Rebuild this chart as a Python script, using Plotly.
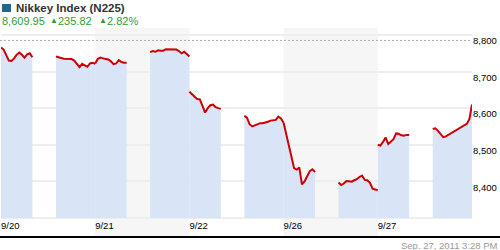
import plotly.graph_objects as go

# ---- data ----
days = ["9/20", "9/21", "9/22", "9/26", "9/27"]
# values every 10 minutes; morning 9:00-11:00 (13 pts), afternoon 12:30-15:00 (16 pts)
am_0920 = [8766, 8760, 8745, 8730, 8729, 8736, 8746, 8752, 8746, 8738, 8747, 8750, 8739]
pm_0920 = [8741, 8740, 8737, 8735, 8734, 8734, 8734, 8730, 8720, 8712, 8721, 8718, 8713, 8722, 8724, 8721]
am_0921 = [8722, 8735, 8738, 8735, 8734, 8733, 8728, 8720, 8722, 8731, 8726, 8724, 8724]
pm_0921 = [8753, 8756, 8754, 8758, 8757, 8757, 8761, 8761, 8762, 8761, 8760, 8756, 8750, 8754, 8748, 8741]
am_0922 = [8645, 8637, 8631, 8625, 8624, 8606, 8588, 8600, 8608, 8610, 8603, 8600, 8598]
pm_0922 = [8579, 8574, 8556, 8550, 8553, 8557, 8559, 8559, 8560, 8563, 8566, 8568, 8568, 8577, 8572, 8560]
am_0926 = [8560, 8528, 8492, 8460, 8436, 8432, 8438, 8392, 8400, 8414, 8428, 8433, 8426]
pm_0926 = [8397, 8390, 8394, 8401, 8400, 8399, 8403, 8406, 8412, 8416, 8404, 8403, 8396, 8380, 8378, 8376]
am_0927 = [8500, 8498, 8508, 8520, 8502, 8508, 8515, 8531, 8530, 8526, 8525, 8527, 8527]
pm_0927 = [8543, 8545, 8538, 8528, 8521, 8523, 8527, 8531, 8536, 8540, 8545, 8549, 8553, 8557, 8570, 8610]
sessions = [(am_0920, pm_0920), (am_0921, pm_0921), (am_0922, pm_0922),
            (am_0926, pm_0926), (am_0927, pm_0927)]
am_hours = [k / 6 for k in range(13)]          # 9:00 .. 11:00 (hours after 9:00)
pm_hours = [3.5 + k / 6 for k in range(16)]    # 12:30 .. 15:00
hours_per_day = 6
ref_level = 8785
y_ticks = [8300, 8400, 8500, 8600, 8700, 8800]
y_text = ["", "8,400", "8,500", "8,600", "8,700", "8,800"]
base_level = 8300

W, H = 500, 250
L, R, T, B = 1, 28, 28, 13
pw, ph = W - L - R, H - T - B
def xp(p): return (p - L) / pw
def yp(p): return (H - B - p) / ph

FONT = "Liberation Sans, Arial, sans-serif"
fill_c = "#d9e4f7"
line_c = "#cc0000"

fig = go.Figure()
lines = []
for d, (am, pm) in enumerate(sessions):
    for hrs, vals in ((am_hours, am), (pm_hours, pm)):
        xs = [d * hours_per_day + h for h in hrs]
        fig.add_trace(go.Scatter(x=xs, y=[base_level] * len(xs), mode="lines",
                                 line=dict(width=0), hoverinfo="skip", showlegend=False))
        fig.add_trace(go.Scatter(x=xs, y=vals, mode="lines", fill="tonexty",
                                 fillcolor=fill_c, line=dict(width=0),
                                 hoverinfo="skip", showlegend=False))
        lines.append((xs, vals))
for xs, vals in lines:
    fig.add_trace(go.Scatter(x=xs, y=vals, mode="lines",
                             line=dict(color=line_c, width=2), showlegend=False))

shapes = []
for d in (1, 3):
    shapes.append(dict(type="rect", xref="x", yref="paper", x0=d * hours_per_day,
                       x1=(d + 1) * hours_per_day, y0=0, y1=1,
                       fillcolor="#f6f6f6", line=dict(width=0), layer="below"))
shapes.append(dict(type="line", xref="paper", yref="y", x0=xp(0), x1=xp(470),
                   y0=ref_level, y1=ref_level, line=dict(color="#aaaaaa", width=1, dash="2px,2px")))
shapes.append(dict(type="line", xref="paper", yref="paper", x0=xp(0), x1=xp(500),
                   y0=0, y1=0, line=dict(color="#000000", width=2)))
shapes.append(dict(type="rect", xref="paper", yref="paper", x0=xp(2), x1=xp(11),
                   y0=yp(12), y1=yp(4), fillcolor="#1f6a8a", line=dict(width=0)))

green = "#2e9e2e"
ann = []
def txt(x, y, s, size, color, anchor="left", bold=False):
    ann.append(dict(xref="paper", yref="paper", x=xp(x), y=yp(y), text=("<b>%s</b>" % s) if bold else s,
                    showarrow=False, xanchor=anchor, yanchor="middle",
                    font=dict(family=FONT, size=size, color=color), borderpad=0))
txt(15, 8, "Nikkey Index (N225)", 11.5, "#333333", bold=True)
txt(1, 21, "8,609.95", 11, green)
txt(49, 20, "▲", 8, green)
txt(57, 21, "235.82", 11, green)
txt(98, 20, "▲", 8, green)
txt(106, 21, "2.82%", 11, green)
txt(499, 245, "Sep. 27, 2011 3:28 PM", 9.5, "#999999", anchor="right")

fig.update_layout(
    width=W, height=H, margin=dict(l=L, r=R, t=T, b=B),
    paper_bgcolor="white", plot_bgcolor="white",
    font=dict(family=FONT, size=9.5, color="#000000"),
    shapes=shapes, annotations=ann, showlegend=False,
    xaxis=dict(range=[0, 5 * hours_per_day], tickvals=[d * hours_per_day for d in range(5)],
               ticktext=days, showgrid=False, zeroline=False, showline=False, ticks="",
               ticklabelposition="inside right", tickfont=dict(size=9.5, color="#000")),
    yaxis=dict(range=[8248, 8819], side="right", tickvals=y_ticks, ticktext=y_text,
               showgrid=True, gridcolor="#eeeeee", gridwidth=2, zeroline=False,
               showline=False, ticks="", ticklabelshift=6,
               tickfont=dict(size=9.5, color="#000")),
)
fig.write_html("out.html")
